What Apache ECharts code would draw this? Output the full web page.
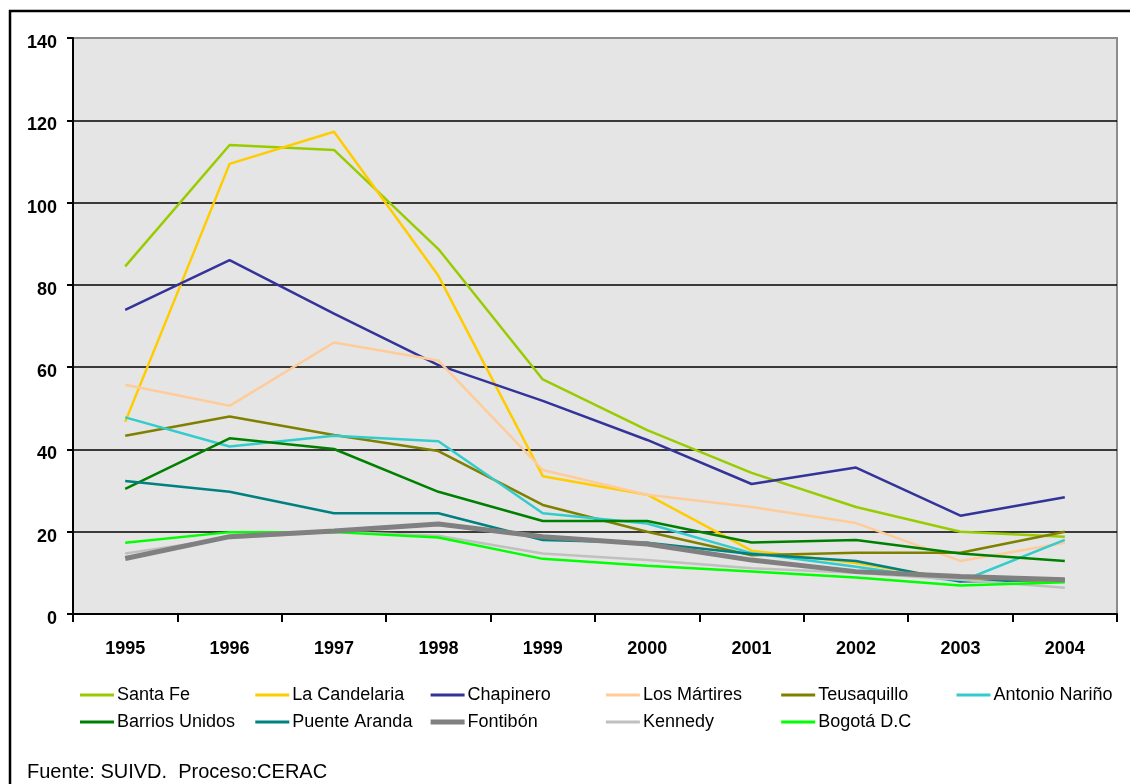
<!DOCTYPE html>
<html>
<head>
<meta charset="utf-8">
<title>Bogotá localidades 1995-2004</title>
<script src="https://cdn.jsdelivr.net/npm/echarts@6/dist/echarts.min.js"></script>
<style>
  html, body { margin: 0; padding: 0; background: #fff; }
  #chart { width: 1130px; height: 784px; }
</style>
</head>
<body>
<div id="chart"></div>
<script>
var years = ["1995", "1996", "1997", "1998", "1999", "2000", "2001", "2002", "2003", "2004"];

// valores
var santaFe       = [84.5, 114, 112.8, 88.7, 57, 44.7, 34.3, 26, 20, 18.8];
var laCandelaria  = [46.7, 109.4, 117.2, 82.2, 33.5, 29, 15.4, 12.4, 8.3, 8];
var chapinero     = [73.9, 86, 73, 60.5, 51.8, 42.3, 31.6, 35.6, 23.9, 28.4];
var losMartires   = [55.7, 50.6, 66, 61.6, 35, 29, 26, 22.1, 12.9, 17.3];
var teusaquillo   = [43.3, 48, 43.5, 39.6, 26.5, 20, 14.3, 14.9, 14.9, 20];
var antonioNarino = [47.8, 40.7, 43.3, 42, 24.5, 22, 14.8, 11.5, 7.9, 18];
var barriosUnidos = [30.4, 42.7, 40.1, 29.7, 22.6, 22.6, 17.4, 18, 14.7, 12.9];
var puenteAranda  = [32.3, 29.7, 24.5, 24.5, 18, 17.3, 14.6, 12.9, 7.9, 8.3];
var fontibon      = [13.5, 18.8, 20.2, 21.9, 18.8, 17, 13.1, 10.3, 9.1, 8.3];
var kennedy       = [14.7, 18.5, 20, 19, 14.7, 13.1, 11.1, 10, 8.3, 6.4];
var bogota        = [17.3, 19.9, 19.9, 18.6, 13.4, 11.7, 10.3, 8.9, 6.9, 7.7];

var names = ["Santa Fe", "La Candelaria", "Chapinero", "Los Mártires", "Teusaquillo", "Antonio Nariño",
             "Barrios Unidos", "Puente Aranda", "Fontibón", "Kennedy", "Bogotá D.C"];
var colors = ["#99CC00", "#FFCC00", "#333399", "#FFCC99", "#808000", "#33CCCC",
              "#008000", "#008080", "#808080", "#C0C0C0", "#00FF00"];
var values = [santaFe, laCandelaria, chapinero, losMartires, teusaquillo, antonioNarino,
              barriosUnidos, puenteAranda, fontibon, kennedy, bogota];

var yTicks = { min: 0, max: 140, interval: 20 };

var chart = echarts.init(document.getElementById("chart"));

var font = "'Liberation Sans', Arial, sans-serif";

var series = [];
var legends = [];
for (var i = 0; i < names.length; i++) {
  var thick = names[i] === "Fontibón";
  series.push({
    name: names[i],
    type: "line",
    data: values[i],
    symbol: "none",
    z: thick ? 3 : 2,
    lineStyle: { color: colors[i], width: thick ? 5 : 2.5 },
    itemStyle: { color: colors[i] },
    animation: false
  });
  // leyenda en columnas fijas, 6 por fila
  var col = i % 6, row = Math.floor(i / 6);
  legends.push({
    data: [names[i]],
    left: 75 + col * 175.3,
    top: 681 + row * 27,
    icon: "rect",
    itemWidth: 34,
    itemHeight: thick ? 5 : 3,
    itemGap: 0,
    selectedMode: false,
    textStyle: { fontFamily: font, fontSize: 18, color: "#000", padding: [0, 0, 0, -2] }
  });
}

chart.setOption({
  backgroundColor: "#fff",
  graphic: [
    {
      type: "rect",
      shape: { x: 10, y: 11, width: 1140, height: 800 },
      style: { fill: "none", stroke: "#000", lineWidth: 2.5 },
      silent: true
    },
    {
      type: "text",
      left: 27,
      top: 762,
      style: {
        text: "Fuente: SUIVD.  Proceso:CERAC",
        fontFamily: font,
        fontSize: 20,
        fill: "#000"
      }
    }
  ],
  grid: {
    left: 73,
    right: 13,
    top: 38,
    bottom: 170,
    show: true,
    backgroundColor: "#E5E5E5",
    borderColor: "#8C8C8C",
    borderWidth: 2
  },
  legend: legends,
  xAxis: {
    type: "category",
    data: years,
    boundaryGap: true,
    axisLine: { lineStyle: { color: "#000", width: 2 } },
    axisTick: { show: true, length: 8, lineStyle: { color: "#000", width: 2 } },
    axisLabel: {
      color: "#000",
      fontWeight: "bold",
      fontSize: 18,
      fontFamily: font,
      margin: 26
    },
    splitLine: { show: false }
  },
  yAxis: {
    type: "value",
    min: yTicks.min,
    max: yTicks.max,
    interval: yTicks.interval,
    axisLine: { show: true, lineStyle: { color: "#000", width: 2 } },
    axisTick: { show: true, length: 6, lineStyle: { color: "#000", width: 2 } },
    axisLabel: {
      color: "#000",
      fontWeight: "bold",
      fontSize: 18,
      fontFamily: font,
      margin: 16,
      verticalAlign: "top",
      lineHeight: 10
    },
    splitLine: {
      show: true,
      showMaxLine: false,
      lineStyle: { color: "#000", width: 1.5 }
    }
  },
  series: series
});
</script>
</body>
</html>
